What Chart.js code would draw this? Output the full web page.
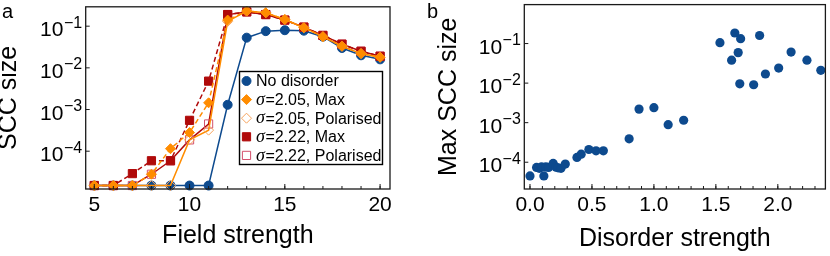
<!doctype html>
<html lang="en">
<head>
<meta charset="utf-8">
<title>SCC size vs field and disorder strength</title>
<script src="https://cdn.jsdelivr.net/npm/chart.js@4.4.1/dist/chart.umd.min.js"></script>
<style>
  body { margin: 0; background: #fff; }
  #wrap { position: relative; width: 830px; height: 256px; }
  #wrap canvas { position: absolute; top: 0; }
</style>
</head>
<body>
<div id="wrap">
  <canvas id="chart-a" width="415" height="256" style="left:0"></canvas>
  <canvas id="chart-b" width="415" height="256" style="left:415px"></canvas>
</div>
<script>
// panel a: SCC size against field strength
const field = [5, 6, 7, 8, 9, 10, 11, 12, 13, 14, 15, 16, 17, 18, 19, 20];
const noDisorder = [1.5e-5, 1.5e-5, 1.5e-5, 1.5e-5, 1.5e-5, 1.5e-5, 1.5e-5, 1.3e-3, 0.053, 0.076, 0.080, 0.078, 0.056, 0.030, 0.020, 0.016];
const sig205Max = [1.5e-5, 1.5e-5, 1.5e-5, 2.8e-5, 1.15e-4, 2.8e-4, 1.45e-3, 0.14, 0.23, 0.21, 0.145, 0.092, 0.056, 0.033, 0.022, 0.018];
const sig205Pol = [1.5e-5, 1.5e-5, 1.5e-5, 1.5e-5, 1.5e-5, 1.87e-4, 3.2e-4, 0.13, 0.23, 0.21, 0.145, 0.092, 0.056, 0.033, 0.022, 0.018];
const sig222Max = [1.5e-5, 1.5e-5, 2.9e-5, 5.9e-5, 5.9e-5, 5.5e-4, 4.8e-3, 0.19, 0.22, 0.19, 0.14, 0.095, 0.060, 0.037, 0.025, 0.019];
const sig222Pol = [1.5e-5, 1.5e-5, 1.5e-5, 2.8e-5, 5.9e-5, 1.87e-4, 4.5e-4, 0.19, 0.22, 0.19, 0.14, 0.095, 0.060, 0.037, 0.025, 0.019];

// panel b: max SCC size against disorder strength
const disorder = [0.0, 0.053, 0.075, 0.093, 0.112, 0.128, 0.15, 0.187, 0.21, 0.227, 0.25, 0.285,
  0.379, 0.413, 0.475, 0.533, 0.592, 0.80, 0.88, 1.0, 1.115, 1.24,
  1.533, 1.627, 1.653, 1.68, 1.70, 1.693, 1.805, 1.853, 1.90, 2.007, 2.107, 2.235, 2.347];
const maxScc = [4.5e-5, 7.4e-5, 7.0e-5, 7.6e-5, 4.5e-5, 7.6e-5, 7.4e-5, 9.3e-5, 7.5e-5, 7.2e-5, 7.0e-5, 9.0e-5,
  1.32e-4, 1.6e-4, 2.1e-4, 1.94e-4, 1.94e-4, 3.9e-4, 2.2e-3, 2.4e-3, 8.9e-4, 1.15e-3,
  0.105, 0.038, 0.185, 0.059, 0.133, 9.6e-3, 9.1e-3, 0.16, 0.017, 0.024, 0.061, 0.038, 0.021];

// ticks
const decades = [-4, -3, -2, -1];
const fieldMajor = [5, 10, 15, 20];
const disorderMajor = [0, 0.5, 1.0, 1.5, 2.0];
const disorderMinor = [0, 0.1, 0.2, 0.3, 0.4, 0.5, 0.6, 0.7, 0.8, 0.9, 1.0, 1.1, 1.2, 1.3, 1.4, 1.5, 1.6, 1.7, 1.8, 1.9, 2.0, 2.1, 2.2, 2.3];

const BLUE = '#0d4a8e';
const ORANGE = '#ff8c00';
const ORANGE_OPEN = '#f7a35c';
const RED = '#b00a0a';
const RED_OPEN = '#d4506c';
const SANS = '"Liberation Sans", Arial, sans-serif';

Chart.defaults.font.family = SANS;
Chart.defaults.color = '#000';

const pts = (xs, ys) => xs.map((x, i) => ({ x: x, y: ys[i] }));

function drawLine(ctx, x1, y1, x2, y2) {
  ctx.beginPath(); ctx.moveTo(x1, y1); ctx.lineTo(x2, y2); ctx.stroke();
}

// marker for the legend, same shapes as the library uses
function drawMarker(ctx, style, x, y, r, fill, stroke) {
  ctx.beginPath();
  if (style === 'circle') {
    ctx.arc(x, y, r, 0, Math.PI * 2);
  } else if (style === 'rect') {
    const s = Math.SQRT1_2 * r;
    ctx.rect(x - s, y - s, 2 * s, 2 * s);
  } else { // rectRot
    ctx.moveTo(x, y - r); ctx.lineTo(x + r, y); ctx.lineTo(x, y + r); ctx.lineTo(x - r, y); ctx.closePath();
  }
  ctx.fillStyle = fill; ctx.fill();
  ctx.strokeStyle = stroke; ctx.lineWidth = 1; ctx.stroke();
}

// frame, inward ticks, 10^n labels, panel letter and legend
const framePlugin = {
  id: 'frame',
  afterDraw(chart, args, o) {
    const { ctx, chartArea: a } = chart;
    const xs = chart.scales.x, ys = chart.scales.y;
    ctx.save();
    ctx.strokeStyle = '#1a1a1a';
    ctx.lineWidth = 1.3;
    ctx.strokeRect(a.left, a.top, a.right - a.left, a.bottom - a.top);

    ctx.lineWidth = 1;
    o.minorX.forEach(v => { const px = xs.getPixelForValue(v); drawLine(ctx, px, a.bottom, px, a.bottom - 3); });
    o.majorX.forEach(v => { const px = xs.getPixelForValue(v); drawLine(ctx, px, a.bottom, px, a.bottom - 5); });

    ctx.fillStyle = '#000';
    ctx.textBaseline = 'alphabetic';
    decades.forEach(e => {
      const py = ys.getPixelForValue(Math.pow(10, e));
      drawLine(ctx, a.left, py, a.left + 4, py);
      const sup = '\u2212' + (-e);
      ctx.font = '16px ' + SANS;
      const wSup = ctx.measureText(sup).width;
      const right = a.left - 3.5;
      ctx.textAlign = 'left';
      ctx.fillText(sup, right - wSup, py + 1.5);
      ctx.font = '21px ' + SANS;
      ctx.textAlign = 'right';
      ctx.fillText('10', right - wSup - 0.5, py + 10);
    });

    ctx.font = '20px ' + SANS;
    ctx.textAlign = 'left';
    ctx.fillText(o.letter, o.letterX, 18);

    if (o.legend) {
      const L = o.legend;
      ctx.fillStyle = '#fff';
      ctx.fillRect(L.x, L.y, L.w, L.h);
      ctx.strokeStyle = '#000';
      ctx.lineWidth = 1.4;
      ctx.strokeRect(L.x, L.y, L.w, L.h);
      chart.data.datasets.forEach((ds, i) => {
        const cy = L.y + 9.5 + i * 18.6;
        drawMarker(ctx, ds.pointStyle, L.x + 7, cy, ds.pointRadius, ds.pointBackgroundColor, ds.pointBorderColor);
        ctx.fillStyle = '#000';
        ctx.textAlign = 'left';
        ctx.textBaseline = 'middle';
        let tx = L.x + 16.5;
        let label = ds.label;
        if (label.startsWith('σ')) {
          ctx.font = 'italic 18px "Liberation Serif", serif';
          ctx.fillText('σ', tx, cy + 0.5);
          tx += ctx.measureText('σ').width + 0.5;
          label = label.slice(1);
        }
        ctx.font = '16px ' + SANS;
        ctx.fillText(label, tx, cy + 1);
      });
    }
    ctx.restore();
  }
};

function logAxis(min, max, title, titlePad, width) {
  return {
    type: 'logarithmic', min: min, max: max,
    grid: { display: false, drawTicks: false },
    border: { display: false },
    ticks: { display: false },
    afterBuildTicks: s => { s.ticks = decades.map(e => ({ value: Math.pow(10, e) })); },
    afterFit: s => { s.width = width; },
    title: { display: true, text: title, font: { size: 25, lineHeight: 0.76 }, padding: { top: titlePad, bottom: 0 } }
  };
}

function linAxis(min, max, major, title, titlePad, fmt) {
  return {
    type: 'linear', min: min, max: max,
    grid: { display: false, drawTicks: false },
    border: { display: false },
    ticks: { font: { size: 21 }, padding: 4, maxRotation: 0, autoSkip: false, callback: fmt },
    afterBuildTicks: s => { s.ticks = major.map(v => ({ value: v })); },
    afterFit: s => { s.height = 67; },
    title: { display: true, text: title, font: { size: 25, lineHeight: 0.9 }, padding: { top: 0, bottom: titlePad } }
  };
}

const lineSet = (label, ys, style, radius, color, fill, stroke, dash, order) => ({
  label: label, data: pts(field, ys),
  borderColor: color, borderWidth: 1.5, borderDash: dash,
  pointStyle: style, pointRadius: radius, pointHoverRadius: radius,
  pointBackgroundColor: fill, pointBorderColor: stroke, pointBorderWidth: 1,
  fill: false, tension: 0, order: order, clip: false
});

new Chart(document.getElementById('chart-a'), {
  type: 'line',
  data: {
    datasets: [
      lineSet('No disorder', noDisorder, 'circle', 4.5, BLUE, BLUE, BLUE, [], 4),
      lineSet('σ=2.05, Max', sig205Max, 'rectRot', 5, ORANGE, ORANGE, ORANGE, [5, 3], 0),
      lineSet('σ=2.05, Polarised', sig205Pol, 'rectRot', 5, ORANGE, 'rgba(255,255,255,0)', ORANGE_OPEN, [], 1),
      lineSet('σ=2.22, Max', sig222Max, 'rect', 5.8, RED, RED, RED, [5, 3], 2),
      lineSet('σ=2.22, Polarised', sig222Pol, 'rect', 5.8, RED, 'rgba(255,255,255,0)', RED_OPEN, [], 3)
    ]
  },
  options: {
    responsive: false,
    animation: false,
    devicePixelRatio: 1,
    layout: { padding: { top: 1, right: 25, left: 0, bottom: 0 } },
    scales: {
      x: linAxis(4.55, 20.52, fieldMajor, 'Field strength', 8.5, v => String(v)),
      y: logAxis(Math.pow(10, -4.907), Math.pow(10, -0.535), 'SCC size', 0, 85.7)
    },
    plugins: {
      legend: { display: false },
      tooltip: { enabled: false },
      frame: {
        minorX: field, majorX: fieldMajor, letter: 'a', letterX: 2,
        legend: { x: 239.5, y: 71.5, w: 143, h: 93 }
      }
    }
  },
  plugins: [framePlugin]
});

new Chart(document.getElementById('chart-b'), {
  type: 'scatter',
  data: {
    datasets: [{
      label: 'Max SCC size', data: pts(disorder, maxScc),
      pointStyle: 'circle', pointRadius: 4.6, pointHoverRadius: 4.6,
      pointBackgroundColor: BLUE, pointBorderColor: BLUE, pointBorderWidth: 0, clip: false
    }]
  },
  options: {
    responsive: false,
    animation: false,
    devicePixelRatio: 1,
    layout: { padding: { top: 1, right: 2, left: 0, bottom: 0 } },
    scales: {
      x: linAxis(-0.046, 2.384, disorderMajor, 'Disorder strength', 5.5, v => v.toFixed(1)),
      y: logAxis(Math.pow(10, -4.677), Math.pow(10, -0.015), 'Max SCC size', 25, 109.3)
    },
    plugins: {
      legend: { display: false },
      tooltip: { enabled: false },
      frame: { minorX: disorderMinor, majorX: disorderMajor, letter: 'b', letterX: 12 }
    }
  },
  plugins: [framePlugin]
});
</script>
</body>
</html>
